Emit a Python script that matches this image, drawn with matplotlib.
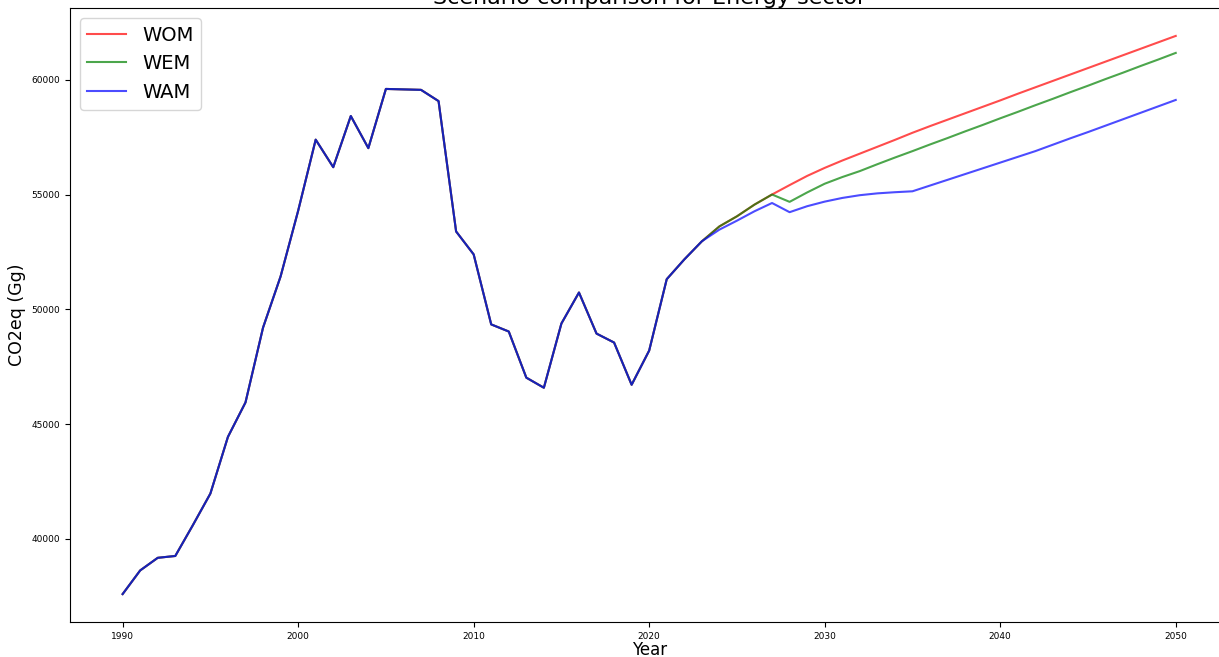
import numpy as np
import matplotlib.pyplot as plt

# Historic inventory (shared by all scenarios), 1990-2023
anos_hist = np.arange(1990, 2024)
hist = np.array([37600, 38630, 39180, 39260, 40600, 41980, 44450, 45950, 49210, 51440,
                 54300, 57400, 56200, 58430, 57030, 59610, 59590, 59570, 59080, 53400,
                 52400, 49350, 49040, 47030, 46590, 49390, 50740, 48950, 48560, 46720,
                 48210, 51320, 52180, 52970])

# Projections 2024-2050
anos_proj = np.arange(2024, 2051)
wom_proj = np.array([53620, 54060, 54570, 55010, 55420, 55820, 56170, 56490, 56790, 57090,
                     57390, 57700, 57990, 58270, 58550, 58830, 59110, 59400, 59680, 59960,
                     60240, 60520, 60800, 61080, 61360, 61640, 61920])
wem_proj = np.array([53620, 54060, 54570, 55010, 54690, 55100, 55480, 55770, 56030, 56330,
                     56620, 56900, 57190, 57470, 57760, 58040, 58330, 58610, 58900, 59180,
                     59470, 59750, 60040, 60320, 60610, 60890, 61180])
wam_proj = np.array([53480, 53870, 54280, 54640, 54240, 54500, 54700, 54860, 54980, 55060,
                     55110, 55150, 55400, 55650, 55900, 56150, 56400, 56650, 56900, 57180,
                     57460, 57730, 58010, 58290, 58570, 58850, 59130])

anos = np.concatenate([anos_hist, anos_proj])
WOM = np.concatenate([hist, wom_proj])
WEM = np.concatenate([hist, wem_proj])
WAM = np.concatenate([hist, wam_proj])

fig = plt.figure(figsize=(12.19, 6.57), dpi=100)
ax = fig.add_axes([0.0574, 0.0533, 0.9503, 0.9345])

ax.plot(anos, WOM, color='r', alpha=0.7, label='WOM')
ax.plot(anos, WEM, color='g', alpha=0.7, label='WEM')
ax.plot(anos, WAM, color='b', alpha=0.7, label='WAM')

ax.set_title('Scenario comparison for Energy sector', fontsize=16, pad=0.5)
ax.set_xlabel('Year', fontsize=12, labelpad=0)
ax.set_ylabel('CO2eq (Gg)', fontsize=12.5, labelpad=4)
ax.tick_params(labelsize=6.5)
ax.legend(fontsize=14, loc='upper left')

fig.savefig('out.png', dpi=100)
